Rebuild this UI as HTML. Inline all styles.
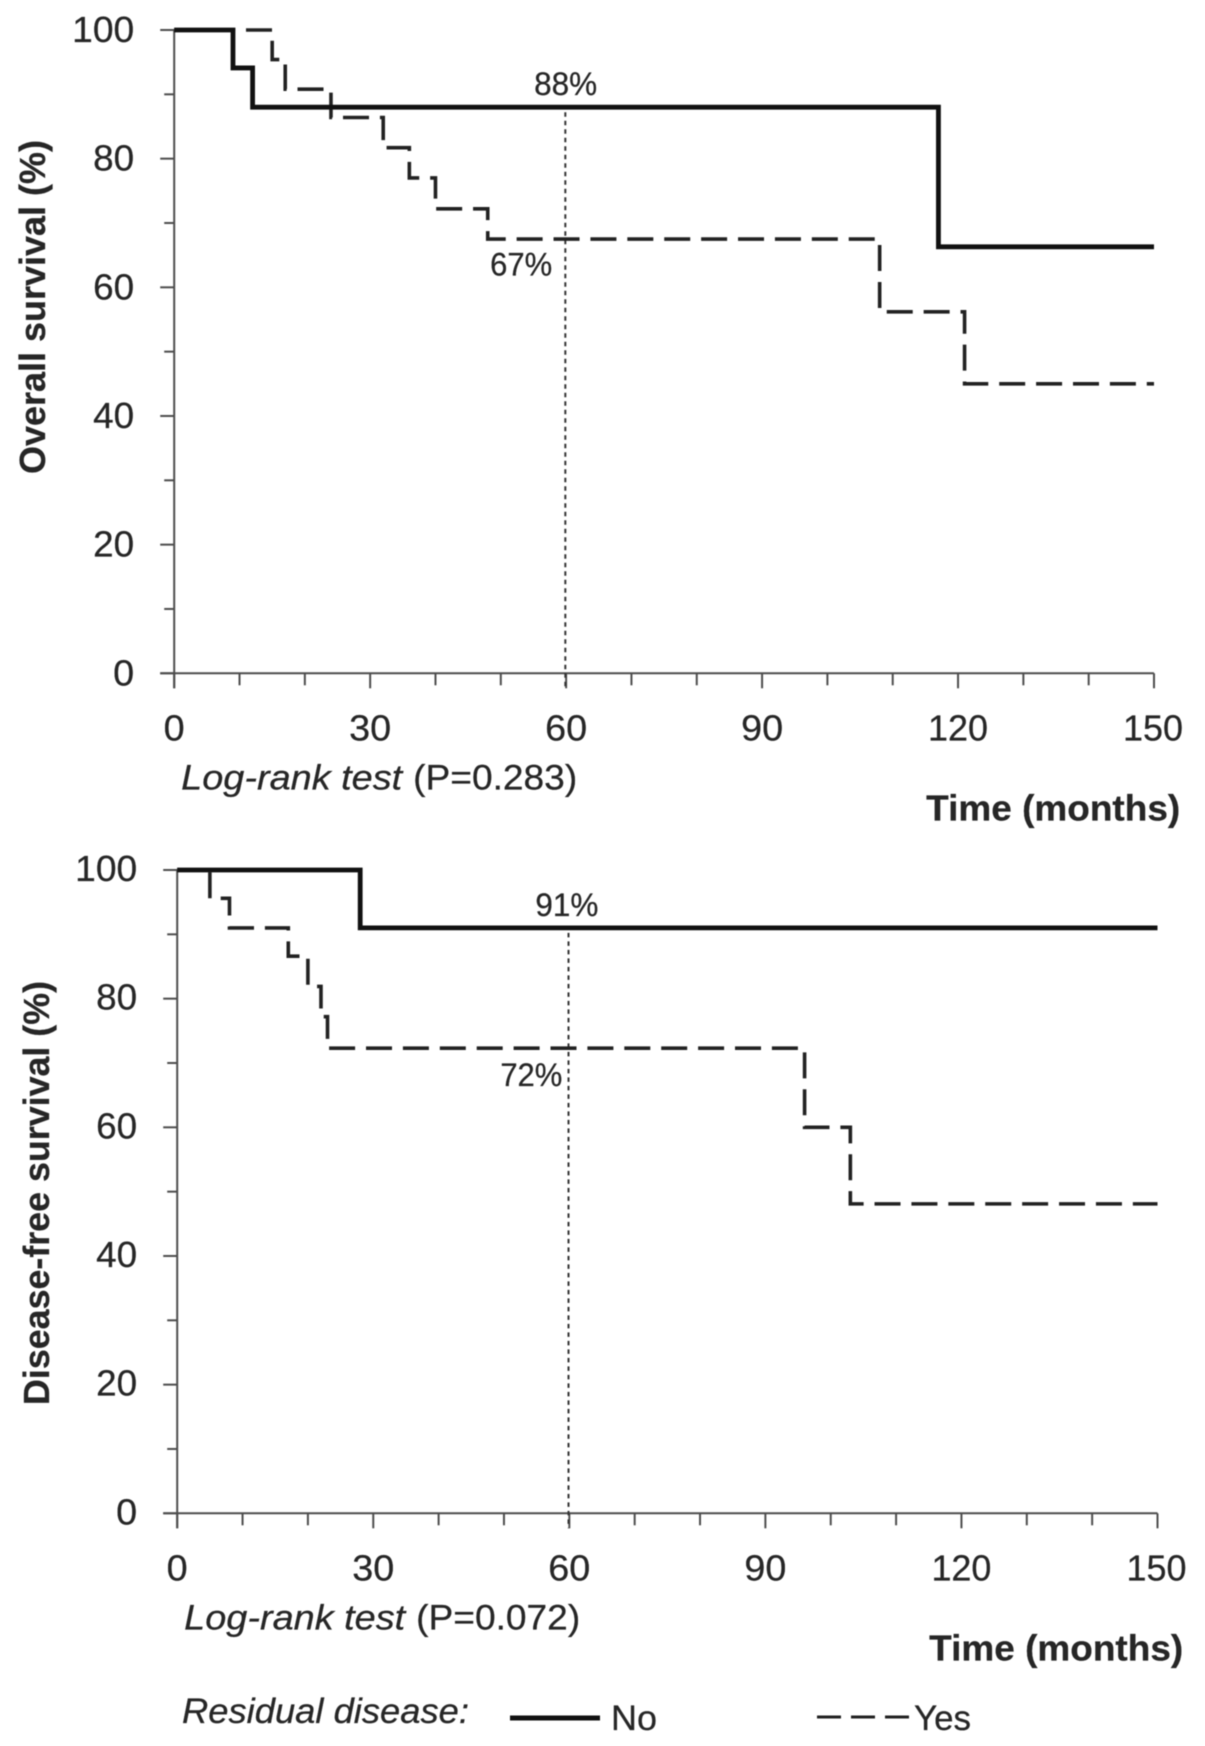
<!DOCTYPE html>
<html>
<head>
<meta charset="utf-8">
<title>Survival curves</title>
<style>
html,body{margin:0;padding:0;background:#fff;width:1205px;height:1746px;overflow:hidden}
svg{display:block;filter:blur(.45px)}
text{font-family:"Liberation Sans",sans-serif;fill:#262626;stroke:#262626;stroke-width:.25}
</style>
</head>
<body>
<svg id="figure" xmlns="http://www.w3.org/2000/svg" width="1205" height="1746" viewBox="0 0 1205 1746"></svg>
<script>
// Shared axis data
const xTicks = [0, 30, 60, 90, 120, 150];
const xMinorTicks = [10, 20, 40, 50, 70, 80, 100, 110, 130, 140];
const yTicks = [0, 20, 40, 60, 80, 100];
const yMinorTicks = [10, 30, 50, 70, 90];

// Overall survival: event times (months) and survival after each event (%)
const osNoTimes = [9, 12, 117];
const osNoValues = [94.1, 88, 66.3];
const osYesTimes = [15, 17, 24, 32, 36, 40, 48, 108, 121];
const osYesValues = [95.4, 90.8, 86.4, 81.7, 77, 72.2, 67.5, 56.2, 45];
const osAnnotations = [88, 67];

// Disease-free survival: event times (months) and survival after each event (%)
const dfsNoTimes = [28];
const dfsNoValues = [91];
const dfsYesTimes = [5, 8, 17, 20, 22, 23, 96, 103];
const dfsYesValues = [95.6, 91, 86.6, 81.9, 77.2, 72.3, 60, 48.1];
const dfsAnnotations = [91, 72];

const svgNS = 'http://www.w3.org/2000/svg';
const figure = document.getElementById('figure');

function mk(tag, attrs, parent) {
  const n = document.createElementNS(svgNS, tag);
  for (const k in attrs) n.setAttribute(k, attrs[k]);
  (parent || figure).appendChild(n);
  return n;
}
function label(str, attrs, parent) {
  const n = mk('text', attrs, parent);
  n.textContent = str;
  return n;
}
function stepPath(times, values, x, y) {
  let d = 'M' + x(0) + ' ' + y(100);
  times.forEach(function (t, i) {
    d += 'H' + x(t) + 'V' + y(values[i]);
  });
  return d + 'H' + x(150);
}

function renderChart(c) {
  const g = mk('g', {});
  
  
  const x = function (m) { return c.x0 + (c.x150 - c.x0) * m / 150; };
  const y = function (v) { return c.y0 + (c.y100 - c.y0) * v / 100; };

  const axisStyle = { stroke: '#4d4d4d', 'stroke-width': 2, fill: 'none' };

  const yAxis = mk('line', Object.assign({ x1: x(0), x2: x(0), y1: y(100), y2: y(0) + 15 }, axisStyle), g);
  
  

  const xAxis = mk('line', Object.assign({ x1: x(0) - 14, x2: x(150), y1: y(0), y2: y(0) }, axisStyle), g);
  
  

  yTicks.forEach(function (v) {
    const t = mk('line', Object.assign({ x1: x(0) - 14, x2: x(0), y1: y(v), y2: y(v) }, axisStyle), g);
    
    
    const w = String(v).length === 3 ? 62 : (String(v).length === 2 ? 41 : 21);
    const l = label(String(v), { x: x(0) - 40 - w, y: y(v) + c.yLabelDy, 'font-size': 36, textLength: w, lengthAdjust: 'spacingAndGlyphs' }, g);
    
    
  });
  yMinorTicks.forEach(function (v) {
    const t = mk('line', Object.assign({ x1: x(0) - 10, x2: x(0), y1: y(v), y2: y(v) }, axisStyle), g);
    
    
  });
  xTicks.forEach(function (m) {
    const t = mk('line', Object.assign({ x1: x(m), x2: x(m), y1: y(0), y2: y(0) + 15 }, axisStyle), g);
    
    
    const w = String(m).length === 3 ? 60 : (String(m).length === 2 ? 42 : 21);
    const l = label(String(m), { x: x(m) - w / 2 - (m === 150 ? 1 : 0), y: y(0) + 67, 'font-size': 36, textLength: w, lengthAdjust: 'spacingAndGlyphs' }, g);
    
    
  });
  xMinorTicks.forEach(function (m) {
    const t = mk('line', Object.assign({ x1: x(m), x2: x(m), y1: y(0), y2: y(0) + 12 }, axisStyle), g);
    
    
  });

  const ref = mk('line', { x1: x(60) - 0.8, x2: x(60) - 0.8, y1: y(c.annotations[0]) + 5, y2: y(0) + 15, stroke: '#333', 'stroke-width': 2, 'stroke-dasharray': '4.5 4' }, g);
  
  

  const yes = mk('path', { d: stepPath(c.yesTimes, c.yesValues, x, y), fill: 'none', stroke: '#222', 'stroke-width': 3.6, 'stroke-dasharray': '26 10.9', 'stroke-dashoffset': 2 }, g);
  
  

  const no = mk('path', { d: stepPath(c.noTimes, c.noValues, x, y), fill: 'none', stroke: '#111', 'stroke-width': 4.8 }, g);
  
  

  const a1 = label(c.annotations[0] + '%', { x: x(60) - 32 - c.highDx, y: y(c.annotations[0]) - 12, 'font-size': 32, textLength: 63, lengthAdjust: 'spacingAndGlyphs' }, g);
  
  

  const a2 = label(c.annotations[1] + '%', { x: x(60) + c.lowDx, y: y(c.annotations[1]) + c.lowDy, 'font-size': 32, textLength: 62, lengthAdjust: 'spacingAndGlyphs' }, g);
  
  

  const yt = label(c.yTitle, { transform: 'translate(' + c.yTitleX + ' ' + c.yTitleBottom + ') rotate(-90)', 'font-size': 36, 'font-weight': 'bold', textLength: c.yTitleLen, lengthAdjust: 'spacingAndGlyphs' }, g);
  
  

  const lr = label('Log-rank test', { x: x(0) + 7, y: y(0) + 116, 'font-size': 35, 'font-style': 'italic', textLength: 221, lengthAdjust: 'spacingAndGlyphs' }, g);
  
  

  const lp = label(c.pText, { x: x(0) + 239, y: y(0) + 116, 'font-size': 35, textLength: 164, lengthAdjust: 'spacingAndGlyphs' }, g);
  
  

  const xt = label('Time (months)', { x: x(0) + 752, y: y(0) + 147, 'font-size': 36, 'font-weight': 'bold', textLength: 254, lengthAdjust: 'spacingAndGlyphs' }, g);
  
  
}

renderChart({
  name: 'overall-survival', x0: 174.2, x150: 1154, y0: 673.3, y100: 30, yLabelDy: 12,
  noTimes: osNoTimes, noValues: osNoValues, yesTimes: osYesTimes, yesValues: osYesValues,
  annotations: osAnnotations, lowDx: -76, lowDy: 33, highDx: 0, yTitle: 'Overall survival (%)', yTitleX: 45, yTitleBottom: 474, yTitleLen: 334,
  pText: '(P=0.283)'
});
renderChart({
  name: 'disease-free-survival', x0: 177.2, x150: 1157.5, y0: 1513.3, y100: 870, yLabelDy: 11,
  noTimes: dfsNoTimes, noValues: dfsNoValues, yesTimes: dfsYesTimes, yesValues: dfsYesValues,
  annotations: dfsAnnotations, lowDx: -69, lowDy: 36, highDx: 2, yTitle: 'Disease-free survival (%)', yTitleX: 49, yTitleBottom: 1405, yTitleLen: 424,
  pText: '(P=0.072)'
});

const legend = mk('g', {});



const legendTitle = label('Residual disease:', { x: 182, y: 1723, 'font-size': 35, 'font-style': 'italic', textLength: 287, lengthAdjust: 'spacingAndGlyphs' }, legend);



const legendNoLine = mk('line', { x1: 510, x2: 600, y1: 1718, y2: 1718, stroke: '#111', 'stroke-width': 5 }, legend);



const legendNo = label('No', { x: 611, y: 1730, 'font-size': 35, textLength: 46, lengthAdjust: 'spacingAndGlyphs' }, legend);



const legendYesLine = mk('line', { x1: 817, x2: 909, y1: 1717, y2: 1717, stroke: '#222', 'stroke-width': 3, 'stroke-dasharray': '24 10' }, legend);



const legendYes = label('Yes', { x: 914, y: 1730, 'font-size': 35, textLength: 57, lengthAdjust: 'spacingAndGlyphs' }, legend);


</script>
</body>
</html>
